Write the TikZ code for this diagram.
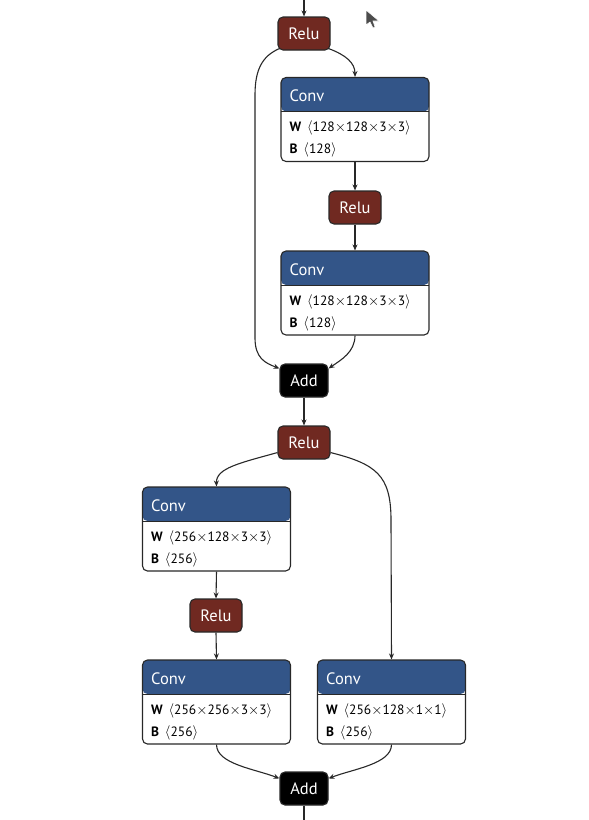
\documentclass[tikz,border=0pt]{standalone}
\usepackage{fontspec}
\setmainfont{PT Sans}
\usetikzlibrary{arrows.meta,positioning}
\definecolor{relured}{RGB}{112,41,33}
\definecolor{convblue}{RGB}{51,85,136}
\definecolor{edgegray}{RGB}{40,40,40}
\tikzset{op node/.style={draw=edgegray,line width=1.1pt,rounded corners=5pt,minimum height=33pt,inner sep=0pt,text=white,font=\fontsize{16.5}{18}\selectfont},
         relu node/.style={op node,fill=relured,minimum width=52pt},
         add node/.style={op node,fill=black,minimum width=48pt},
         conv box/.style={draw=edgegray,line width=1.1pt,fill=white,rounded corners=5pt,minimum width=148pt,minimum height=84pt,inner sep=0pt,
            path picture={\fill[convblue] (path picture bounding box.north west) rectangle ([yshift=-34pt]path picture bounding box.north east);
                          \draw[edgegray,line width=0.6pt] ([yshift=-34pt]path picture bounding box.north west) -- ([yshift=-34pt]path picture bounding box.north east);}},
         conv title/.style={anchor=west,inner sep=0pt,text=white,font=\fontsize{16.5}{18}\selectfont},
         conv attr/.style={anchor=west,inner sep=0pt,font=\fontsize{13.5}{15}\selectfont},
         flow/.style={-{Stealth[length=6pt,width=5pt]},line width=1.1pt,edgegray}
}

\begin{document}
\begin{tikzpicture}[x=1pt,y=-1pt]
\useasboundingbox (0,0) rectangle (589,820);

% operator nodes
\node [relu node] (relu1) at (304,33.5) {Relu};
\node [relu node] (relu2) at (355,207.5) {Relu};
\node [add node] (add1) at (304,380.5) {Add};
\node [relu node] (relu3) at (304,442.5) {Relu};
\node [relu node] (relu4) at (216,615.5) {Relu};
\node [add node] (add2) at (304,788.5) {Add};

% conv blocks
\foreach \name/\pos/\wt/\bs in {
    conv1/{355,119.5}/{128$\times$128$\times$3$\times$3}/128,
    conv2/{355,293}/{128$\times$128$\times$3$\times$3}/128,
    conv3/{216.5,529}/{256$\times$128$\times$3$\times$3}/256,
    conv4/{216.5,702}/{256$\times$256$\times$3$\times$3}/256,
    conv5/{391.5,702}/{256$\times$128$\times$1$\times$1}/256}{
    \node [conv box] (\name) at (\pos) {};
    \node [conv title] (\name title) at ([xshift=9pt,yshift=-19pt]\name.north west) {Conv};
    \node [conv attr] (\name w) at ([xshift=9pt,yshift=-51pt]\name.north west) {\textbf{W}\ \,$\langle$\wt$\rangle$};
    \node [conv attr] (\name b) at ([xshift=9pt,yshift=-73pt]\name.north west) {\textbf{B}\ \,$\langle$\bs$\rangle$};
}

\coordinate (in top) at (304,0);
\coordinate (out bottom) at (304,820);

% first block
\draw [flow] (in top) -- (relu1.north);
\draw [flow] ([xshift=-2pt,yshift=2pt]relu1.south east) .. controls (346,55) and (355,63) .. (conv1.north);
\draw [flow] (conv1.south) -- (relu2.north);
\draw [flow] (relu2.south) -- (conv2.north);
\draw [flow] ([xshift=2pt,yshift=2pt]relu1.south west) .. controls (262,56) and (255,70) .. (255,95) -- (255,338)
    .. controls (255,358) and (265,363) .. ([yshift=-5pt]add1.north west);
\draw [flow] (conv2.south) .. controls (355,352) and (341,360) .. ([yshift=-5pt]add1.north east);
\draw [flow] (add1.south) -- (relu3.north);

% second block
\draw [flow] ([yshift=7pt]relu3.south west) .. controls (240,463) and (216,468) .. (conv3.north);
\draw [flow] ([yshift=7pt]relu3.south east) .. controls (376,464) and (391,475) .. (391,520) -- (conv5.north);
\draw [flow] (conv3.south) -- (relu4.north);
\draw [flow] (relu4.south) -- (conv4.north);
\draw [flow] (conv4.south) .. controls (216.5,764) and (255,769) .. ([yshift=-7pt]add2.north west);
\draw [flow] (conv5.south) .. controls (391.5,764) and (353,769) .. ([yshift=-7pt]add2.north east);
\draw [line width=1.1pt,edgegray] (add2.south) -- (out bottom);

% mouse pointer
\fill [black!70,draw=white,line width=0.6pt] (366,10) -- (366,25) -- (370,22) -- (373,28) -- (375,27) -- (373,21) -- (379,21) -- cycle;
\end{tikzpicture}
\end{document}
